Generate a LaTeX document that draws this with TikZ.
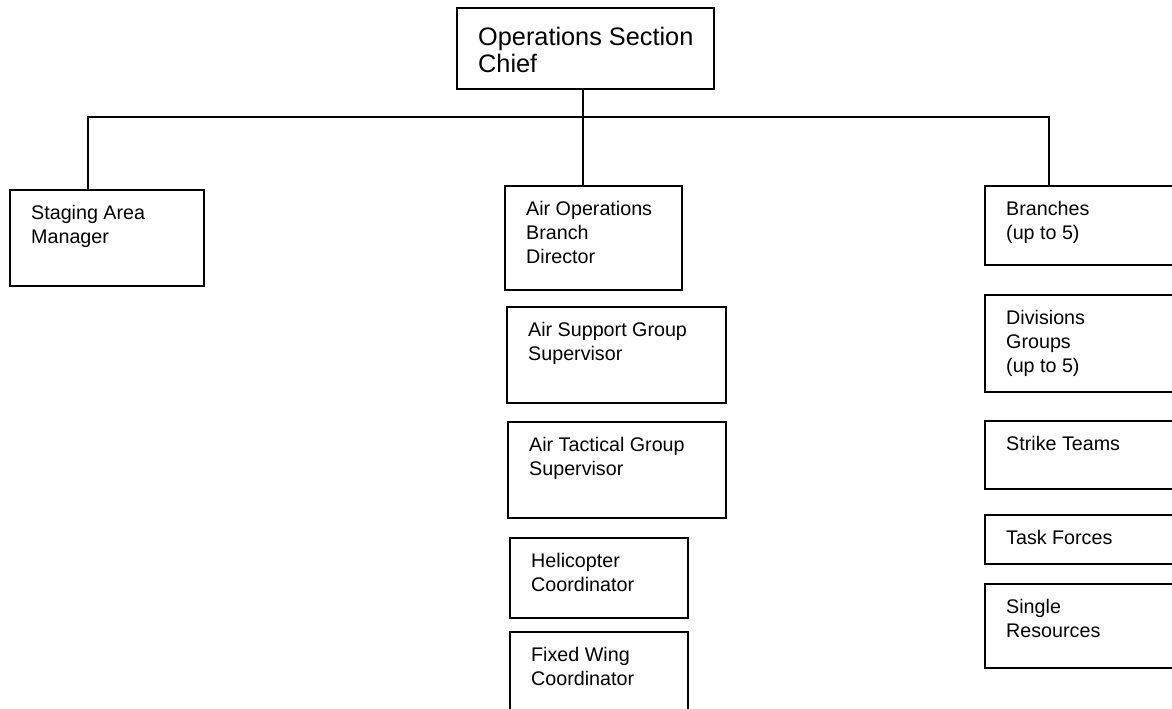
\documentclass[tikz,border=0pt]{standalone}
\usepackage{fontspec}
\setmainfont{Liberation Sans}
\usetikzlibrary{calc}

\tikzset{
  orgbox/.style={draw=black, line width=1.8pt, rectangle, inner sep=0pt, fill=none},
  boxtext/.style={inner sep=0pt, align=left, anchor=base west,
    font=\fontsize{19.7}{24}\selectfont},
  bigtext/.style={inner sep=0pt, align=left, anchor=base west,
    font=\fontsize{25.3}{27}\selectfont},
  link/.style={draw=black, line width=1.8pt},
}

% \orgunit{name}{left}{top}{width}{height}{lines}{text}
% the text node is anchored at the baseline of its last line
\newcommand\orgunit[7]{%
  \node[orgbox, minimum width=#4pt, minimum height=#5pt, anchor=north west] (#1) at (#2,#3) {};
  \node[boxtext] (#1-t) at ([xshift=22pt, yshift={-30.5pt-(#6-1)*24pt}]#1.north west) {#7};
}

\begin{document}
\begin{tikzpicture}[x=1pt, y=-1pt]
  \useasboundingbox (0,0) rectangle (1172,709);
  \fill[white] (0,0) rectangle (1172,709);
  \clip (0,0) rectangle (1172,709);

  % section chief
  \node[orgbox, minimum width=257pt, minimum height=81pt, anchor=north west] (chief) at (456,7) {};
  \node[bigtext] (chief-t) at ([xshift=22pt, yshift=-65.7pt]chief.north west) {Operations Section\\Chief};

  % left column
  \orgunit{staging}{9}{189}{194}{96}{2}{Staging Area\\Manager}

  % air operations column
  \orgunit{airops}{504}{185}{177}{104}{3}{Air Operations\\Branch\\Director}
  \orgunit{airsup}{506}{306}{219}{96}{2}{Air Support Group\\Supervisor}
  \orgunit{airtac}{507}{421}{218}{96}{2}{Air Tactical Group\\Supervisor}
  \orgunit{heli}{509}{537}{178}{80}{2}{Helicopter\\Coordinator}
  \orgunit{fixed}{509}{631}{178}{100}{2}{Fixed Wing\\Coordinator}

  % right column
  \orgunit{branches}{984}{185}{220}{79}{2}{Branches\\(up to 5)}
  \orgunit{divs}{984}{294}{220}{97}{3}{Divisions\\Groups\\(up to 5)}
  \orgunit{strike}{984}{420}{220}{68}{1}{Strike Teams}
  \orgunit{task}{984}{514}{220}{49}{1}{Task Forces}
  \orgunit{single}{984}{583}{220}{84}{2}{Single\\Resources}

  % distribution bus
  \coordinate (busL) at (88,117);
  \coordinate (busC) at (583,117);
  \coordinate (busR) at (1049,117);

  \draw[link] (chief.south -| busC) -- (busC);
  \draw[link] (busL |- staging.north) -- (busL) -- (busR) -- (busR |- branches.north);
  \draw[link] (busC) -- (busC |- airops.north);
\end{tikzpicture}
\end{document}
